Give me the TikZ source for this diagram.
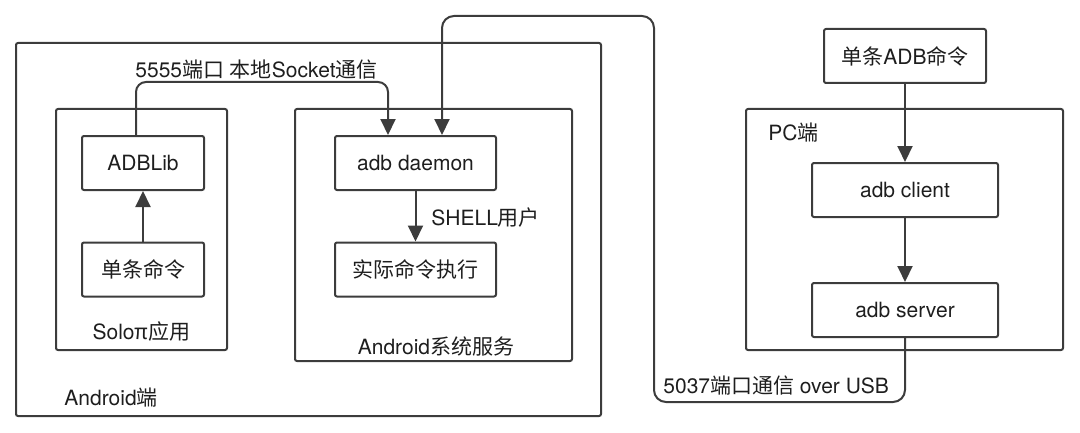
\documentclass[tikz,border=0pt]{standalone}
\usepackage{fontspec}
\setmainfont{TeX Gyre Heros}
\newfontfamily\cjk{Noto Sans CJK SC}
\usepackage{tikz}
\usetikzlibrary{arrows.meta, positioning, calc}
\definecolor{linegray}{RGB}{60,60,60}
\definecolor{textgray}{RGB}{30,30,30}
\tikzstyle{box} = [rectangle, draw=linegray, line width=1pt, rounded corners=1pt, minimum width=61pt, minimum height=27pt, inner sep=0pt, font=\fontsize{10.5}{12}\selectfont, text=textgray]
\tikzstyle{ar} = [-{Triangle[length=8pt, width=7.5pt]}, draw=linegray, line width=1pt]

\begin{document}
\begin{tikzpicture}[x=0.5pt, y=-0.5pt,
  group/.style={rectangle, draw=linegray, line width=1pt, rounded corners=1pt, inner sep=0pt},
  lbl/.style={inner sep=0pt, font=\fontsize{10.5}{12}\selectfont, text=textgray}]

  \useasboundingbox (0,0) rectangle (1080,433);

  % containers
  \node[group, minimum width=292.5pt, minimum height=186.5pt] (android) at (308.5, 229.5) {};
  \node[group, minimum width=85.5pt, minimum height=120.5pt] (solo) at (141.5, 229.5) {};
  \node[group, minimum width=138.5pt, minimum height=126pt] (sys) at (433.5, 235) {};
  \node[group, minimum width=158.5pt, minimum height=120.5pt] (pc) at (904.5, 229.5) {};

  % boxes
  \node[box] (adblib) at (143, 163) {ADBLib};
  \node[box] (solocmd) at (143, 269.5) {\cjk 单条命令};
  \node[box, minimum width=80.5pt] (daemon) at (415.5, 163) {adb daemon};
  \node[box, minimum width=80.5pt] (exec) at (415.5, 269.5) {\cjk 实际命令执行};
  \node[box, minimum width=81pt] (pccmd) at (905, 56) {{\cjk 单条}ADB{\cjk 命令}};
  \node[box, minimum width=93pt] (client) at (905, 190) {adb client};
  \node[box, minimum width=93pt] (server) at (905, 310) {adb server};

  % labels
  \node[lbl, anchor=west] (socketlbl) at (135, 70) {5555{\cjk 端口} {\cjk 本地}Socket{\cjk 通信}};
  \node[lbl, anchor=west] (shelllbl) at (431, 218) {SHELL{\cjk 用户}};
  \node[lbl] (sololbl) at (141.5, 332) {Solo{\cjk π应用}};
  \node[lbl] (syslbl) at (436, 346) {Android{\cjk 系统服务}};
  \node[lbl, anchor=west] (androidlbl) at (64, 398) {Android{\cjk 端}};
  \node[lbl, anchor=west] (pclbl) at (768, 133) {PC{\cjk 端}};
  \node[lbl, anchor=west] (usblbl) at (663, 386) {5037{\cjk 端口通信} over USB};

  \coordinate (usbturn) at (654, 402);
  \coordinate (usbtop) at (654, 16);

  \draw[ar] (solocmd) -- (adblib);
  \draw[ar] (daemon) -- (exec);
  \draw[ar] (pccmd) -- (client);
  \draw[ar] (client) -- (server);
  \draw[ar, rounded corners=5pt] ([xshift=-3.5pt]adblib.north) -- ++(0,-53) -| ([xshift=-13.75pt]daemon.north);
  \draw[ar, rounded corners=6pt] (server.south) |- (usbturn) -- (usbtop) -| ([xshift=13.25pt]daemon.north);
\end{tikzpicture}
\end{document}
